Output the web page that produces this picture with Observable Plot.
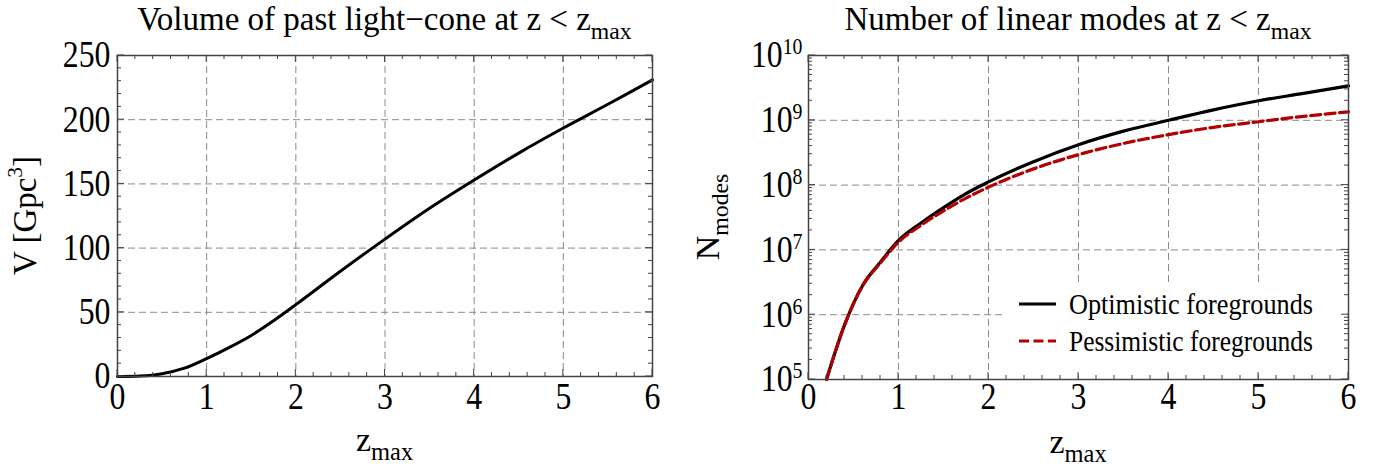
<!DOCTYPE html>
<html><head><meta charset="utf-8">
<script src="https://cdn.jsdelivr.net/npm/d3@7"></script>
<script src="https://cdn.jsdelivr.net/npm/@observablehq/plot@0.6"></script>
<style>
html,body{margin:0;padding:0;background:#fff;}
#wrap{position:relative;width:1380px;height:473px;overflow:hidden;background:#fff;}
#left,#right{position:absolute;top:0;}
#left{left:0;} #right{left:690px;}
svg{font-family:"Liberation Serif","Times New Roman",serif;}
</style></head>
<body><div id="wrap"><div id="left"></div><div id="right"></div></div>
<script>
// ---------------- data ----------------
const zVol = [0,0.25,0.5,0.75,1,1.25,1.5,1.75,2,2.5,3,3.5,4,4.5,5,5.5,6];
const volGpc3 = [0,0.3,2.2,6.5,14,22.5,32,43.5,56,82,107,131,153,174,193.5,212,231];

const zModes = [0.2,0.4,0.6,0.8,1,1.25,1.5,1.75,2,2.5,3,3.5,4,4.5,5,5.5,6];
const nOptimistic = [1.0e5,6.9e5,2.8e6,6.5e6,1.4e7,2.6e7,4.5e7,7.4e7,1.12e8,2.3e8,4.2e8,6.8e8,1.0e9,1.45e9,2.0e9,2.6e9,3.4e9];
const nPessimistic = [1.0e5,6.9e5,2.8e6,6.3e6,1.32e7,2.4e7,4.0e7,6.3e7,9.3e7,1.78e8,2.95e8,4.4e8,6.0e8,7.8e8,9.5e8,1.15e9,1.35e9];

const seriesNames = ["Optimistic foregrounds","Pessimistic foregrounds"];
const seriesColors = ["#000000","#b30000"];
const seriesDash = [null,"10,4.5"];

const xTicks = [0,1,2,3,4,5,6];
const vTicks = [0,50,100,150,200,250];
const nTicks = [1e5,1e6,1e7,1e8,1e9,1e10];

const leftTitle = ["Volume of past light\u2212cone at z < z","max"];
const rightTitle = ["Number of linear modes at z < z","max"];
const xLabel = ["z","max"];

// ---------------- helpers ----------------
const TICK_SX = 0.86;
const volData = zVol.map((z,i)=>({z, V: volGpc3[i]}));
const modeData = [];
seriesNames.forEach((s,k)=>{
  const vals = k===0 ? nOptimistic : nPessimistic;
  zModes.forEach((z,i)=>modeData.push({z, N: vals[i], series: s}));
});

// horizontally condense Plot's own tick-label texts (keeps their em-based y offsets)
function condense(svg, sel, f){
  d3.select(svg).selectAll(sel).each(function(){
    const t = this.getAttribute("transform") || "";
    const xs = this.getAttribute("x");
    let tx = 0;
    if (xs !== null && xs !== "" && !isNaN(+xs)) { tx = +xs; this.removeAttribute("x"); }
    this.setAttribute("transform", `${t} translate(${tx},0) scale(${f},1)`);
  });
}

function richText(parent, x, y, size, parts, {anchor="middle", rotate=0, sx=1, subScale=0.72}={}){
  const t = parent.append("text").attr("font-size", size).attr("text-anchor", anchor)
    .attr("fill","black")
    .attr("transform", `translate(${x},${y}) scale(${sx},1)${rotate?` rotate(${rotate})`:""}`);
  let shift = 0;
  for (const p of parts){
    const s = t.append("tspan").text(p.t);
    const target = p.sub ? 0.27*size : p.sup ? -0.42*size : 0;
    if (target !== shift){ s.attr("dy", target - shift); shift = target; }
    if (p.sub || p.sup) s.attr("font-size", size*subScale);
  }
  return t;
}

function addTicks(svg, plot, xMaj, xMin, yMaj, yMin){
  const sx = plot.scale("x"), sy = plot.scale("y");
  const [xa, xb] = sx.range, [yb, ya] = sy.range;
  const g = d3.select(svg).append("g").attr("stroke","#444").attr("stroke-width",1).attr("fill","none");
  const L = 7, l = 4;
  const vx = (v,len)=>{ const X = sx.apply(v);
    g.append("line").attr("x1",X).attr("x2",X).attr("y1",yb).attr("y2",yb-len);
    g.append("line").attr("x1",X).attr("x2",X).attr("y1",ya).attr("y2",ya+len); };
  const hy = (v,len)=>{ const Y = sy.apply(v);
    g.append("line").attr("y1",Y).attr("y2",Y).attr("x1",xa).attr("x2",xa+len);
    g.append("line").attr("y1",Y).attr("y2",Y).attr("x1",xb).attr("x2",xb-len); };
  xMaj.forEach(v=>vx(v,L)); xMin.forEach(v=>vx(v,l));
  yMaj.forEach(v=>hy(v,L)); yMin.forEach(v=>hy(v,l));
}

const gridStyle = {stroke:"#8a8a8a", strokeOpacity:1, strokeWidth:1, strokeDasharray:"7,4"};
const xMinor = d3.range(0,6.001,0.2).filter(v=>Math.abs(v-Math.round(v))>1e-6);

// ---------------- left plot ----------------
const left = Plot.plot({
  width:690, height:473,
  marginLeft:117, marginRight:38, marginTop:55, marginBottom:97,
  style:{fontFamily:"Liberation Serif", background:"white", color:"black"},
  x:{domain:[0,6]},
  y:{domain:[0,250]},
  marks:[
    Plot.gridX(xTicks.slice(1,-1), gridStyle),
    Plot.gridY(vTicks.slice(1,-1), gridStyle),
    Plot.axisX(xTicks,{tickSize:0, tickPadding:6, fontSize:37, label:null}),
    Plot.axisY(vTicks,{tickSize:0, tickPadding:7, fontSize:37, label:null}),
    Plot.line(volData,{x:"z", y:"V", stroke:"black", strokeWidth:3, curve:"catmull-rom"}),
    Plot.frame({stroke:"#444", strokeWidth:1.5})
  ]
});
condense(left, "text", TICK_SX);
{
  const s = d3.select(left);
  const sx = left.scale("x"), sy = left.scale("y");
  const cx = (sx.range[0]+sx.range[1])/2, cy = (sy.range[0]+sy.range[1])/2;
  richText(s, cx, 30, 33, [{t:leftTitle[0]},{t:leftTitle[1],sub:true}]);
  richText(s, cx, 451, 34, [{t:xLabel[0]},{t:xLabel[1],sub:true}]);
  richText(s, 36, cy, 33, [{t:"V [Gpc"},{t:"3",sup:true},{t:"]"}], {rotate:-90, subScale:0.65});
  const vMinor = d3.range(0,251,10).filter(v=>v%50!==0);
  addTicks(left, left, xTicks, xMinor, vTicks, vMinor);
}
document.getElementById("left").appendChild(left);

// ---------------- right plot ----------------
const right = Plot.plot({
  width:690, height:473,
  marginLeft:118, marginRight:32, marginTop:55, marginBottom:94,
  style:{fontFamily:"Liberation Serif", background:"white", color:"black"},
  x:{domain:[0,6]},
  y:{type:"log", domain:[1e5,1e10]},
  marks:[
    Plot.gridX(xTicks.slice(1,-1), gridStyle),
    Plot.gridY(nTicks.slice(1,-1), gridStyle),
    Plot.axisX(xTicks,{tickSize:0, tickPadding:3, fontSize:37, label:null}),
    Plot.axisY(nTicks,{tickSize:0, tickPadding:6, fontSize:37, label:null,
      tickFormat: d => String(Math.round(Math.log10(d)))}),
    Plot.line(modeData.filter(d=>d.series===seriesNames[0]),{x:"z", y:"N", stroke:seriesColors[0], strokeWidth:3.2, curve:"monotone-x"}),
    Plot.line(modeData.filter(d=>d.series===seriesNames[1]),{x:"z", y:"N", stroke:seriesColors[1], strokeWidth:3.2, strokeDasharray:seriesDash[1], curve:"monotone-x"}),
    Plot.frame({stroke:"#444", strokeWidth:1.5})
  ]
});
// superscript exponents on log axis
d3.select(right).selectAll('g[aria-label="y-axis tick label"] text').each(function(){
  const e = this.textContent;
  this.textContent = "10";
  d3.select(this).append("tspan").attr("font-size",23).attr("dy",-13).text(e);
});
condense(right, "text", TICK_SX);
{
  const s = d3.select(right);
  const sx = right.scale("x"), sy = right.scale("y");
  const cx = (sx.range[0]+sx.range[1])/2, cy = (sy.range[0]+sy.range[1])/2;
  richText(s, cx, 30, 33, [{t:rightTitle[0]},{t:rightTitle[1],sub:true}]);
  richText(s, cx, 453, 34, [{t:xLabel[0]},{t:xLabel[1],sub:true}]);
  richText(s, 29, cy, 34, [{t:"N"},{t:"modes",sub:true}], {rotate:-90, subScale:0.7});

  // legend (inside frame, bottom-right)
  const xb = sx.range[1], yb = sy.range[0];
  const lg = s.append("g");
  lg.append("rect").attr("x", xb-345).attr("y", yb-96).attr("width", 340).attr("height", 89).attr("fill","white");
  seriesNames.forEach((name,k)=>{
    const ly = yb - 75 + k*37;
    const ln = lg.append("line").attr("x1", xb-329).attr("x2", xb-292).attr("y1", ly).attr("y2", ly)
      .attr("stroke", seriesColors[k]).attr("stroke-width", 3.2);
    if (seriesDash[k]) ln.attr("stroke-dasharray", seriesDash[k]);
    lg.append("text").attr("x", xb-279).attr("y", ly+10).attr("font-size", 29).attr("fill","black")
      .attr("text-anchor","start")
      .attr("textLength", 244).attr("lengthAdjust","spacingAndGlyphs")
      .text(name);
  });
  const nMinor = [];
  for (let e=5;e<10;e++) for (let k=2;k<10;k++) nMinor.push(k*Math.pow(10,e));
  addTicks(right, right, xTicks, xMinor, nTicks, nMinor);
}
document.getElementById("right").appendChild(right);
</script>
</body></html>
